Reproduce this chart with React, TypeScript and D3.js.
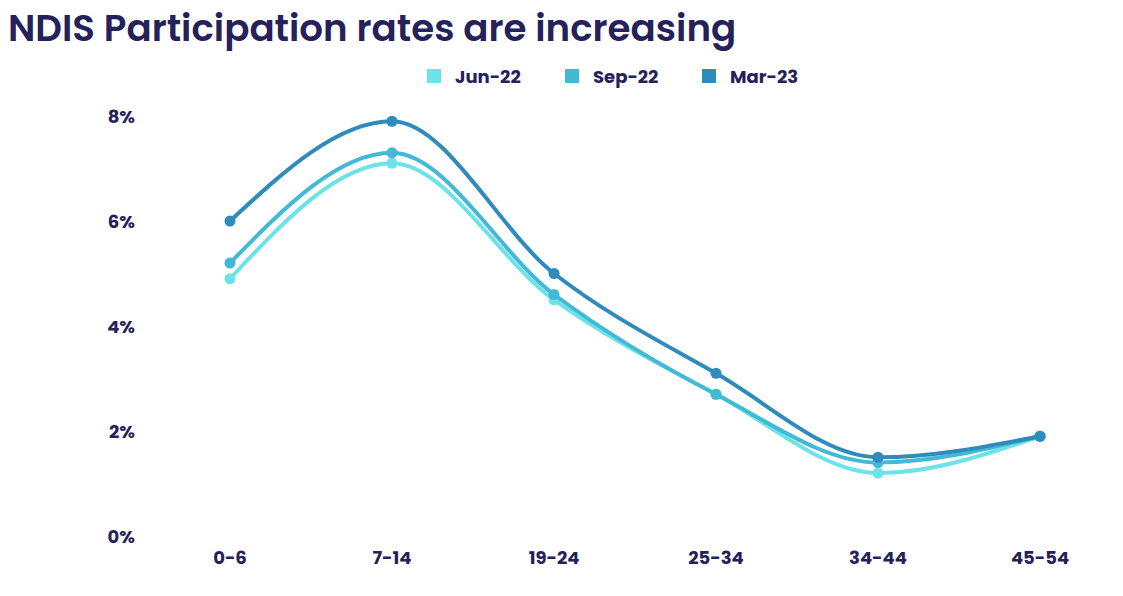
import React from "react";
import * as d3 from "d3";

const categories = ["0-6", "7-14", "19-24", "25-34", "34-44", "45-54"];
const seriesNames = ["Jun-22", "Sep-22", "Mar-23"];
const jun22 = [4.9, 7.1, 4.5, 2.7, 1.2, 1.9];
const sep22 = [5.2, 7.3, 4.6, 2.7, 1.4, 1.9];
const mar23 = [6.0, 7.9, 5.0, 3.1, 1.5, 1.9];
const yTicks = [0, 2, 4, 6, 8];
const colors = ["#6be3e8", "#42b9d6", "#2e8bbc"];

const W = 1123;
const H = 596;
const TEXT = "#25215a";
const FONT = "Poppins, 'Open Sans', Lato, sans-serif";

export default function App() {
  const series = [jun22, sep22, mar23];
  const x = d3.scalePoint<string>().domain(categories).range([149, 1121]).padding(0.5);
  const y = d3.scaleLinear().domain([0, 8]).range([536, 116]);
  const line = d3
    .line<number>()
    .x((_, i) => x(categories[i]) as number)
    .y((d) => y(d))
    .curve(d3.curveMonotoneX);

  const legendX = [427, 565, 702];

  return (
    <svg width={W} height={H} style={{ position: "absolute", left: 0, top: 0 }}>
      <rect width={W} height={H} fill="#fff" />
      <text x={8} y={41} fill={TEXT} fontFamily={FONT} fontWeight={600} fontSize={37.2}>
        NDIS Participation rates are increasing
      </text>
      {seriesNames.map((n, i) => (
        <g key={n}>
          <rect x={legendX[i]} y={69} width={14} height={14} fill={colors[i]} />
          <text x={legendX[i] + 28} y={82.5} fill={TEXT} fontFamily={FONT} fontWeight={700} fontSize={18}>
            {n}
          </text>
        </g>
      ))}
      {yTicks.map((t) => (
        <text
          key={t}
          x={135}
          y={y(t) + 6.5}
          textAnchor="end"
          fill={TEXT}
          fontFamily={FONT}
          fontWeight={700}
          fontSize={18}
        >
          {t}%
        </text>
      ))}
      {categories.map((c) => (
        <text
          key={c}
          x={x(c) as number}
          y={564}
          textAnchor="middle"
          fill={TEXT}
          fontFamily={FONT}
          fontWeight={700}
          fontSize={18}
        >
          {c}
        </text>
      ))}
      {series.map((s, si) => (
        <g key={si}>
          <path d={line(s) || ""} fill="none" stroke={colors[si]} strokeWidth={4} />
          {s.map((v, i) => (
            <circle key={i} cx={x(categories[i]) as number} cy={y(v)} r={5.5} fill={colors[si]} />
          ))}
        </g>
      ))}
    </svg>
  );
}
